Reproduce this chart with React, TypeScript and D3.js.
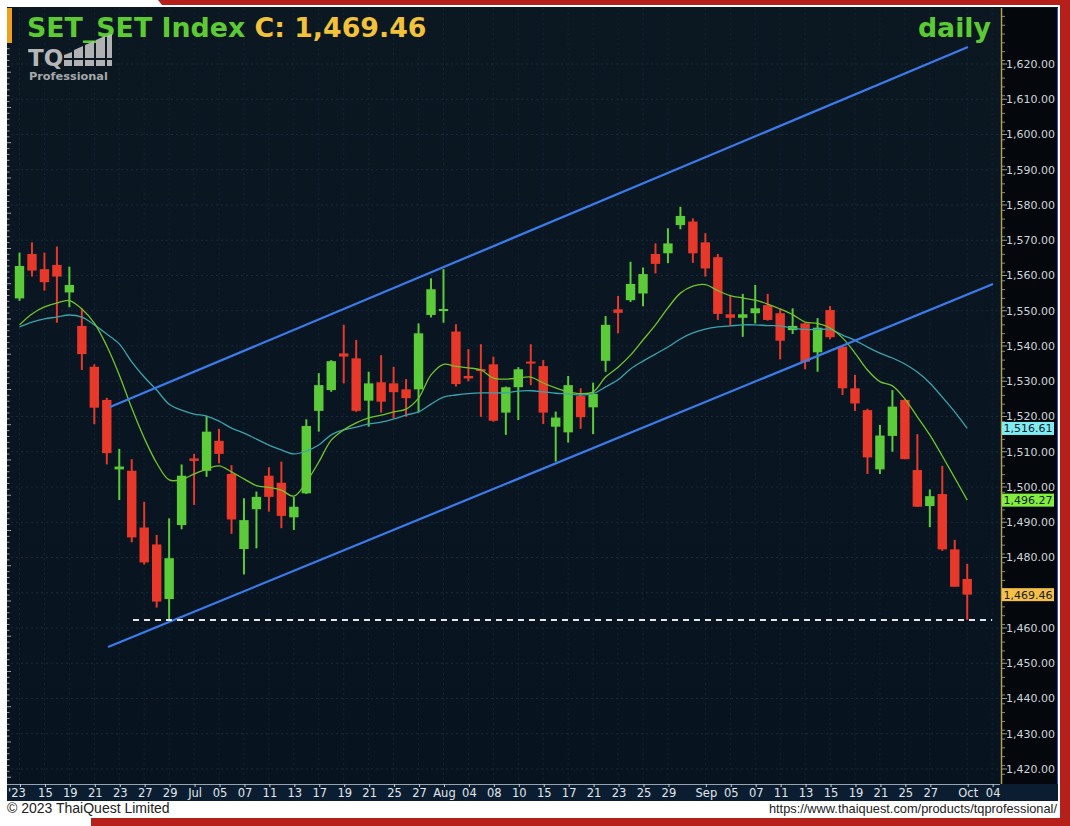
import React from 'react';
import * as d3 from 'd3';

// ---------- DATA ----------
const tradingDays = [
  '2023-06-13','2023-06-14','2023-06-15','2023-06-16','2023-06-19','2023-06-20','2023-06-21','2023-06-22','2023-06-23','2023-06-26','2023-06-27','2023-06-28','2023-06-29','2023-06-30',
  '2023-07-03','2023-07-04','2023-07-05','2023-07-06','2023-07-07','2023-07-10','2023-07-11','2023-07-12','2023-07-13','2023-07-14','2023-07-17','2023-07-18','2023-07-19','2023-07-20','2023-07-21','2023-07-24','2023-07-25','2023-07-26','2023-07-27','2023-07-31',
  '2023-08-02','2023-08-03','2023-08-04','2023-08-07','2023-08-08','2023-08-09','2023-08-10','2023-08-11','2023-08-15','2023-08-16','2023-08-17','2023-08-18','2023-08-21','2023-08-22','2023-08-23','2023-08-24','2023-08-25','2023-08-28','2023-08-29','2023-08-30','2023-08-31',
  '2023-09-01','2023-09-04','2023-09-05','2023-09-06','2023-09-07','2023-09-08','2023-09-11','2023-09-12','2023-09-13','2023-09-14','2023-09-15','2023-09-18','2023-09-19','2023-09-20','2023-09-21','2023-09-22','2023-09-25','2023-09-26','2023-09-27','2023-09-28','2023-09-29',
  '2023-10-02','2023-10-03','2023-10-04'
];

const opens = [1553.5,1566.1,1561.8,1563.0,1555.2,1545.7,1534.1,1524.7,1505.0,1504.6,1488.5,1483.7,1468.2,1489.2,1508.1,1504.6,1513.1,1503.7,1482.4,1493.7,1503.2,1501.2,1491.4,1498.2,1521.6,1527.5,1537.9,1536.5,1524.5,1529.7,1529.4,1527.7,1527.7,1548.8,1549.9,1544.1,1531.5,1533.4,1534.8,1521.1,1528.3,1535.5,1534.3,1517.1,1515.5,1525.8,1522.6,1535.8,1550.4,1553.0,1554.9,1566.1,1566.3,1574.3,1575.3,1569.4,1565.2,1549.0,1548.0,1549.3,1551.6,1549.3,1544.5,1546.4,1538.2,1550.2,1539.8,1528.0,1521.8,1505.0,1514.5,1524.7,1504.8,1494.6,1498.0,1482.3,1473.9];
const highs = [1566.5,1569.4,1566.5,1568.2,1562.5,1550.7,1534.8,1525.3,1510.8,1507.9,1495.8,1486.4,1491.1,1506.4,1509.4,1520.2,1516.5,1506.2,1496.8,1498.7,1505.6,1507.2,1497.2,1519.2,1532.3,1536.0,1546.0,1541.7,1532.7,1537.4,1534.1,1530.6,1546.4,1559.2,1561.8,1546.2,1539.1,1540.5,1537.0,1528.5,1534.0,1540.5,1536.0,1521.4,1531.5,1528.0,1529.6,1548.5,1554.2,1563.9,1562.3,1569.1,1573.4,1579.5,1576.2,1572.0,1566.1,1554.2,1554.8,1557.3,1554.8,1550.7,1550.7,1546.6,1547.9,1551.3,1540.2,1531.8,1522.2,1517.6,1527.5,1524.9,1515.0,1499.3,1506.0,1485.0,1478.2];
const lows = [1552.8,1559.7,1555.7,1546.6,1551.0,1533.2,1517.8,1506.4,1496.3,1484.3,1478.0,1465.8,1462.3,1488.0,1494.9,1502.9,1506.7,1486.7,1475.2,1482.6,1493.0,1488.3,1487.8,1498.0,1515.7,1527.0,1529.4,1521.3,1517.1,1521.1,1519.5,1519.9,1521.1,1548.1,1546.6,1528.5,1530.0,1519.9,1518.5,1514.8,1519.0,1528.9,1517.9,1507.2,1512.6,1516.5,1515.0,1532.7,1543.6,1552.5,1551.3,1560.6,1563.5,1573.1,1563.6,1559.7,1547.4,1545.7,1542.6,1546.4,1547.2,1536.2,1543.4,1533.4,1532.7,1541.9,1526.1,1521.6,1503.7,1503.7,1510.0,1507.9,1494.4,1488.6,1481.9,1471.7,1462.3];
const closes = [1562.7,1561.4,1558.1,1559.7,1557.3,1537.7,1522.5,1509.6,1505.8,1485.7,1478.6,1467.5,1479.8,1503.2,1507.4,1515.7,1509.4,1490.8,1490.6,1497.2,1497.2,1491.8,1494.4,1517.3,1528.9,1535.7,1537.0,1521.6,1529.4,1524.2,1526.9,1525.2,1543.6,1556.1,1550.5,1529.2,1530.8,1532.9,1518.8,1528.3,1533.4,1535.1,1521.1,1519.7,1528.9,1519.8,1526.4,1546.0,1549.4,1557.6,1560.4,1563.3,1569.1,1576.9,1566.3,1562.0,1549.1,1548.0,1549.0,1550.7,1547.4,1541.5,1545.7,1535.5,1545.2,1542.5,1528.0,1523.7,1508.4,1514.6,1522.8,1507.9,1494.4,1497.4,1482.3,1471.7,1469.46];

// fast moving average (green) and slow moving average (teal)
const maFast = [1546.0,1549.1,1551.1,1552.2,1552.9,1550.5,1546.5,1540.0,1531.8,1522.4,1513.9,1506.8,1502.0,1502.1,1503.7,1505.1,1506.0,1504.3,1502.3,1500.4,1499.9,1499.1,1497.4,1501.4,1507.1,1513.3,1516.2,1518.2,1519.6,1520.4,1521.3,1522.1,1525.2,1531.8,1534.8,1534.2,1533.8,1533.2,1530.9,1530.6,1530.9,1531.2,1529.5,1528.1,1527.0,1526.5,1527.0,1531.2,1534.0,1537.4,1541.7,1546.0,1550.8,1555.0,1557.0,1557.4,1555.7,1554.3,1553.6,1553.0,1551.9,1550.5,1548.9,1546.8,1546.4,1545.1,1542.3,1538.0,1533.2,1529.9,1528.7,1525.0,1519.9,1514.8,1508.8,1502.6,1496.27];
const maSlow = [1545.4,1546.8,1547.7,1548.2,1548.8,1548.2,1546.0,1543.4,1540.6,1535.5,1531.2,1527.5,1523.5,1521.8,1520.7,1520.1,1518.7,1516.7,1515.3,1513.6,1511.9,1510.5,1509.4,1510.2,1511.9,1514.8,1516.2,1517.0,1517.9,1518.4,1519.3,1520.4,1521.3,1523.5,1525.5,1526.1,1526.5,1526.7,1526.7,1526.7,1527.2,1527.3,1527.0,1526.6,1526.4,1526.1,1526.5,1528.4,1530.4,1533.5,1535.7,1537.7,1539.7,1542.0,1543.7,1544.8,1545.4,1545.7,1546.0,1546.0,1545.8,1545.7,1545.1,1544.7,1544.7,1544.7,1543.1,1541.6,1539.7,1538.0,1536.6,1534.9,1532.6,1529.5,1525.5,1521.3,1516.61];

const tickDates = ['2023-06-13','2023-06-15','2023-06-19','2023-06-21','2023-06-23','2023-06-27','2023-06-29','2023-07-03','2023-07-05','2023-07-07','2023-07-11','2023-07-13','2023-07-17','2023-07-19','2023-07-21','2023-07-25','2023-07-27','2023-08-02','2023-08-04','2023-08-08','2023-08-10','2023-08-15','2023-08-17','2023-08-21','2023-08-23','2023-08-25','2023-08-29','2023-09-01','2023-09-05','2023-09-07','2023-09-11','2023-09-13','2023-09-15','2023-09-19','2023-09-21','2023-09-25','2023-09-27','2023-10-02','2023-10-04'];
const tickTexts = ["'23",'15','19','21','23','27','29','Jul','05','07','11','13','17','19','21','25','27','Aug','04','08','10','15','17','21','23','25','29','Sep','05','07','11','13','15','19','21','25','27','Oct','04'];

const priceTicks = [1420,1430,1440,1450,1460,1470,1480,1490,1500,1510,1520,1530,1540,1550,1560,1570,1580,1590,1600,1610,1620];

// trend channel lines: [day index, price]
const channelUpper = [[7.26, 1522.7], [76.06, 1624.8]];
const channelLower = [[7.1, 1454.6], [78.07, 1557.6]];
const supportLine = [[9.1, 1462.3], [78.0, 1462.3]];

const lastClose = 1469.46;
const lastFast = 1496.27;
const lastSlow = 1516.61;

// ---------- COMPONENT ----------
export default function App() {
  const W = 1070, H = 826;
  const plotL = 11, plotR = 1000, plotT = 8, plotB = 784;
  const x = d3.scaleLinear().domain([0, 78]).range([19.5, 19.5 + 78 * 12.47]);
  const y = d3.scaleLinear().domain([1420, 1620]).range([769, 64]);
  const bodyW = 9.4;
  const green = '#5ccb3a';
  const red = '#e8382a';

  const lineGen = d3.line<number>().x((_, i) => x(i)).y(d => y(d)).curve(d3.curveCatmullRom);
  const segGen = d3.line<number[]>().x(d => x(d[0])).y(d => y(d[1]));

  const fmt = d3.format(',.2f');
  const font = 'DejaVu Sans, Verdana, sans-serif';

  const leftTicks = d3.range(1416, 1636, 1.6667);
  const minorY = d3.range(1416, 1636, 2.5);

  const boxes = [
    { v: lastSlow, bg: '#7fecf2' },
    { v: lastFast, bg: '#84ee3e' },
    { v: lastClose, bg: '#f6bf48' },
  ];
  const hiddenByBox = (p: number) => boxes.some(b => Math.abs(y(b.v) - y(p)) < 11);

  return (
    <div style={{ position: 'absolute', left: 0, top: 0 }}>
      <svg width={W} height={H} style={{ display: 'block', background: '#ffffff' }}>
        <defs>
          <linearGradient id="bg" x1="0" y1="0" x2="0" y2="1">
            <stop offset="0" stopColor="#0b1822" />
            <stop offset="1" stopColor="#07131f" />
          </linearGradient>
          <clipPath id="plotClip">
            <rect x={plotL} y={plotT} width={plotR - plotL} height={plotB - plotT} />
          </clipPath>
        </defs>

        {/* red decoration */}
        <polygon points="158,0 1070,0 1070,5 162,5" fill="#b5201a" />
        <rect x={1060} y={0} width={10} height={H} fill="#b5201a" />
        <rect x={91} y={818} width={W - 91} height={8} fill="#b5201a" />

        {/* dark panel */}
        <rect x={7} y={7} width={1051} height={794} fill="url(#bg)" />

        {/* grid */}
        <g clipPath="url(#plotClip)">
          {priceTicks.map(p => (
            <line key={'h' + p} x1={plotL} x2={plotR} y1={y(p)} y2={y(p)} stroke="#182b3d" strokeWidth={1} strokeDasharray="2,3" />
          ))}
          {tickDates.map(d => {
            const xi = x(tradingDays.indexOf(d));
            return <line key={'v' + d} x1={xi} x2={xi} y1={plotT} y2={plotB} stroke="#132436" strokeWidth={1} strokeDasharray="2,3" />;
          })}
        </g>

        {/* left tick strip */}
        <rect x={7} y={8} width={5} height={35} fill="#f0a020" />
        {leftTicks.filter(p => y(p) > 46 && y(p) < 783).map((p, k) => (
          <line key={'lt' + k} x1={7} x2={k % 6 === 0 ? 11 : 9.5} y1={y(p)} y2={y(p)} stroke="#9aa6b2" strokeWidth={1} />
        ))}

        {/* title */}
        <text x={27} y={37} fontFamily={font} fontWeight="bold" fontSize={26.8} fill="#5ccb33">
          SET_SET Index <tspan fill="#f2c23a">C: 1,469.46</tspan>
        </text>
        <text x={991} y={37} textAnchor="end" fontFamily={font} fontWeight="bold" fontSize={26.8} fill="#5ccb33">daily</text>

        {/* logo */}
        <g fill="#c2c2c2" opacity={0.9}>
          <text x={28} y={66} fontFamily={font} fontWeight="bold" fontSize={23} fill="#c8c8c8">TQ</text>
          <polygon points="64,66 72,66 72,52 64,55" />
          <polygon points="74,66 83,66 83,46 74,50" />
          <polygon points="85,66 94,66 94,41 85,45" />
          <polygon points="96,66 105,66 105,36 96,40" />
          <polygon points="107,66 112,66 112,34 107,36" />
          <rect x={64} y={58} width={48} height={2} fill="#0b1822" />
          <text x={29} y={80} fontFamily={font} fontWeight="bold" fontSize={11.3} fill="#b8b8b8">Professional</text>
        </g>

        {/* plot content */}
        <g clipPath="url(#plotClip)">
          {opens.map((o, i) => {
            const c = closes[i];
            const up = c >= o;
            const col = up ? green : red;
            const xi = x(i);
            const top = y(Math.max(o, c));
            const bot = y(Math.min(o, c));
            const h = Math.max(2, bot - top);
            return (
              <g key={'c' + i}>
                <line x1={xi} x2={xi} y1={y(highs[i])} y2={y(lows[i])} stroke={col} strokeWidth={2} />
                <rect x={xi - bodyW / 2} y={h === 2 ? (top + bot) / 2 - 1 : top} width={bodyW} height={h} fill={col} />
              </g>
            );
          })}

          <path d={lineGen(maSlow) || ''} fill="none" stroke="#3aa3ad" strokeWidth={1.3} />
          <path d={lineGen(maFast) || ''} fill="none" stroke="#72c42c" strokeWidth={1.3} />

          <path d={segGen(channelUpper) || ''} fill="none" stroke="#3b7cec" strokeWidth={2.2} />
          <path d={segGen(channelLower) || ''} fill="none" stroke="#3b7cec" strokeWidth={2.2} />
          <path d={segGen(supportLine) || ''} fill="none" stroke="#e6e6e6" strokeWidth={2} strokeDasharray="6,5" />
        </g>

        {/* y axis panel */}
        <rect x={1000} y={8} width={58} height={776} fill="#04080c" />
        <line x1={1001.5} x2={1001.5} y1={8} y2={784} stroke="#b59e55" strokeWidth={1.5} />
        <line x1={1057.5} x2={1057.5} y1={8} y2={784} stroke="#2a55c0" strokeWidth={1} />
        {minorY.filter(p => y(p) > 10 && y(p) < 782).map((p, k) => (
          <line key={'my' + k} x1={1002} x2={1005} y1={y(p)} y2={y(p)} stroke="#8a8a7a" strokeWidth={1} />
        ))}
        {priceTicks.map(p => (
          <g key={'pt' + p}>
            <line x1={1002} x2={1007} y1={y(p)} y2={y(p)} stroke="#a09a80" strokeWidth={1} />
            {!hiddenByBox(p) && (
              <text x={1055} y={y(p)} dy="0.35em" textAnchor="end" fontFamily={font} fontSize={11} fill="#cfd4da">{fmt(p)}</text>
            )}
          </g>
        ))}

        {boxes.map(b => (
          <g key={'b' + b.v}>
            <rect x={1002} y={y(b.v) - 6.5} width={52} height={13} fill={b.bg} />
            <text x={1028} y={y(b.v)} dy="0.36em" textAnchor="middle" fontFamily={font} fontSize={11} fill="#13202c">{fmt(b.v)}</text>
          </g>
        ))}

        {/* x axis strip */}
        <rect x={7} y={784} width={1051} height={17} fill="#0b1d31" />
        <line x1={7} x2={1000} y1={784.5} y2={784.5} stroke="#9aa4ae" strokeWidth={1} />
        {tickDates.map((d, k) => {
          const xi = x(tradingDays.indexOf(d)) + 1;
          const first = k === 0;
          return (
            <g key={'xt' + d}>
              <line x1={xi} x2={xi} y1={784} y2={787} stroke="#c8d0d8" strokeWidth={1} />
              <text x={first ? 8 : xi} y={797} textAnchor={first ? 'start' : 'middle'} fontFamily={font} fontSize={11.5} fill="#e2e6ea">{tickTexts[k]}</text>
            </g>
          );
        })}

        {/* footer */}
        <rect x={0} y={801} width={1060} height={17} fill="#ffffff" />
        <text x={7} y={813} fontFamily="Liberation Sans, Arial, sans-serif" fontSize={14} fill="#222">© 2023 ThaiQuest Limited</text>
        <text x={1057} y={813} textAnchor="end" fontFamily="Liberation Sans, Arial, sans-serif" fontSize={12.8} fill="#222">https://www.thaiquest.com/products/tqprofessional/</text>
      </svg>
    </div>
  );
}
